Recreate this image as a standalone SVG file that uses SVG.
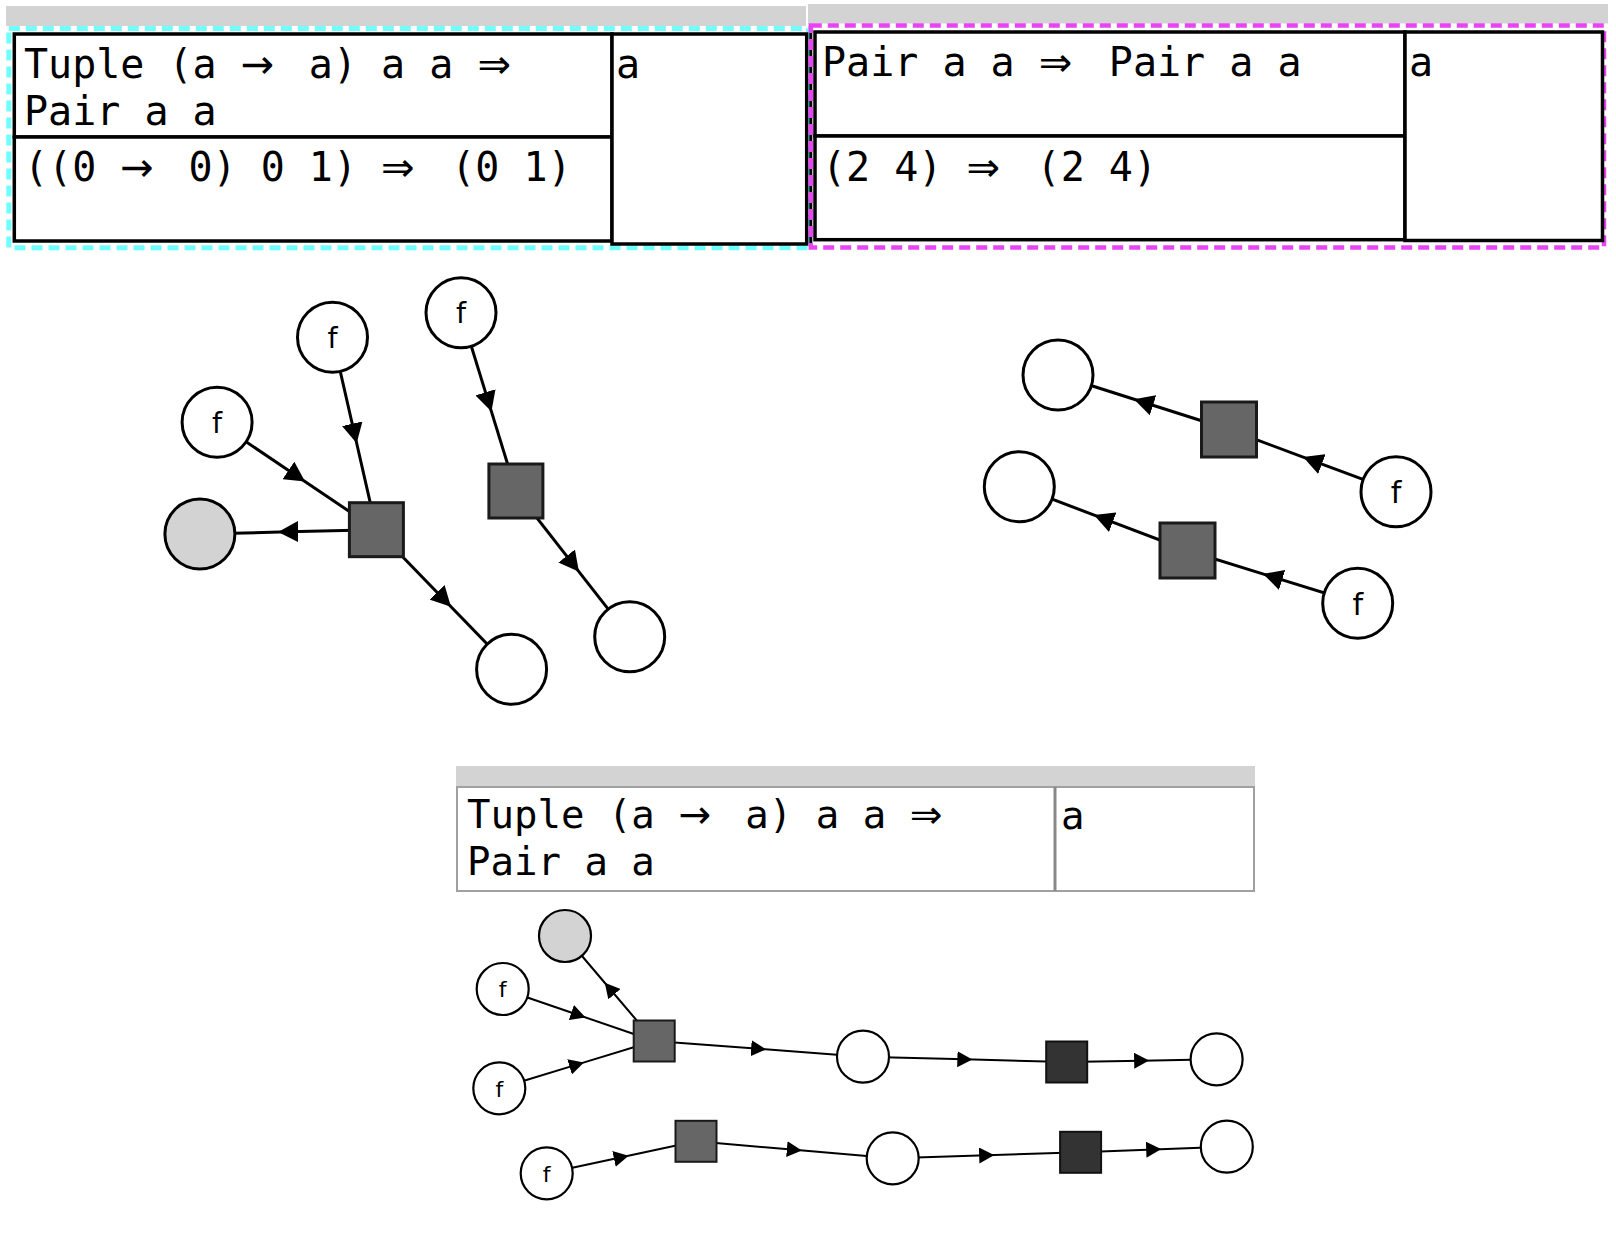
<svg xmlns="http://www.w3.org/2000/svg" width="1616" height="1250" viewBox="0 0 1616 1250">
<style>
.bar{fill:#d3d3d3}
.cell{fill:#fff;stroke:#000;stroke-width:3.5}
.cellg{fill:#fff;stroke:#a0a0a0;stroke-width:2}
.mono{font-family:"DejaVu Sans Mono","Liberation Mono",monospace;font-size:40px;fill:#000}
.monos{font-size:39px}
.arr{font-family:"DejaVu Sans","Liberation Sans",sans-serif}
.lbl{font-family:"DejaVu Sans","Liberation Sans",sans-serif;text-anchor:middle;fill:#000}
.c{fill:#fff;stroke:#000;stroke-width:3}
.cs{fill:#fff;stroke:#000;stroke-width:2.2}
.g{fill:#d3d3d3}
.sq{fill:#666;stroke:#1a1a1a;stroke-width:3}
.sqs{fill:#666;stroke:#1a1a1a;stroke-width:2}
.dsq{fill:#333;stroke:#111;stroke-width:2}
.e{fill:none;stroke:#000;stroke-width:3;marker-mid:url(#ah)}
.es{fill:none;stroke:#000;stroke-width:2;marker-mid:url(#ahs)}
</style>
<defs>
<marker id="ah" viewBox="-10 -10.5 20 21" markerWidth="20" markerHeight="21" markerUnits="userSpaceOnUse" orient="auto" refX="0" refY="0"><path d="M-10,-10.5 L10,0 L-10,10.5 Z" fill="#000"/></marker>
<marker id="ahs" viewBox="-7.5 -8 15 16" markerWidth="15" markerHeight="16" markerUnits="userSpaceOnUse" orient="auto" refX="0" refY="0"><path d="M-7.5,-8 L7.5,0 L-7.5,8 Z" fill="#000"/></marker>
</defs>
<rect width="1616" height="1250" fill="#fff"/>

<g id="panel-left">
<rect class="bar" x="6" y="6" width="800" height="20"/>
<rect x="8.8" y="28.5" width="799.7" height="219.3" fill="none" stroke="#70ffff" stroke-width="5" stroke-dasharray="11 6"/>
<rect class="cell" x="14.3" y="34" width="597.7" height="103"/>
<rect class="cell" x="14.3" y="137" width="597.7" height="104"/>
<rect class="cell" x="612" y="34" width="194.7" height="210"/>
<text class="mono" x="24" y="78" xml:space="preserve">Tuple (a <tspan class="arr">→</tspan><tspan dx="10.5"> a) a a </tspan><tspan class="arr">⇒</tspan></text>
<text class="mono" x="24" y="125">Pair a a</text>
<text class="mono" x="24" y="181" xml:space="preserve">((0 <tspan class="arr">→</tspan><tspan dx="10.5"> 0) 0 1) </tspan><tspan class="arr">⇒</tspan><tspan dx="12.5"> (0 1)</tspan></text>
<text class="mono" x="616" y="78">a</text>
</g>

<g id="panel-right">
<rect class="bar" x="808" y="4" width="800" height="19.5"/>
<line x1="810.8" y1="30" x2="810.8" y2="246" stroke="#000" stroke-width="3"/>
<rect x="810.8" y="25.5" width="793.2" height="222" fill="none" stroke="#e844f4" stroke-width="4.5" stroke-dasharray="11 6"/>
<rect class="cell" x="815" y="32" width="590" height="104"/>
<rect class="cell" x="815" y="136" width="590" height="103.7"/>
<rect class="cell" x="1405" y="32" width="197.5" height="208.5"/>
<text class="mono" x="822" y="76" xml:space="preserve">Pair a a <tspan class="arr">⇒</tspan><tspan dx="12.5"> Pair a a</tspan></text>
<text class="mono" x="822" y="181" xml:space="preserve">(2 4) <tspan class="arr">⇒</tspan><tspan dx="12.5"> (2 4)</tspan></text>
<text class="mono" x="1409" y="76">a</text>
</g>

<g id="panel-bottom">
<rect class="bar" x="456" y="766" width="799" height="20"/>
<rect class="cellg" x="457" y="787" width="598" height="104"/>
<rect class="cellg" x="1055" y="787" width="199" height="104"/>
<line x1="1055" y1="787" x2="1055" y2="891" stroke="#888" stroke-width="3"/>
<text class="mono monos" x="467" y="828" xml:space="preserve">Tuple (a <tspan class="arr">→</tspan><tspan dx="10.8"> a) a a </tspan><tspan class="arr">⇒</tspan></text>
<text class="mono monos" x="467" y="875">Pair a a</text>
<text class="mono monos" x="1061" y="829">a</text>
</g>

<g id="connectors">
<polyline class="e" points="332.5,337.3 354.45,433.5 376.4,529.7"/>
<polyline class="e" points="217.1,422.3 296.75,476 376.4,529.7"/>
<polyline class="e" points="376.4,529.7 288.15,531.85 199.9,534"/>
<polyline class="e" points="376.4,529.7 444,599.5 511.6,669.3"/>
<polyline class="e" points="461,312.7 488.45,401.85 515.9,491"/>
<polyline class="e" points="515.9,491 572.8,563.85 629.7,636.7"/>
<polyline class="e" points="1396,491.7 1312.5,460.6 1229,429.5"/>
<polyline class="e" points="1229,429.5 1143.5,402.25 1058,375"/>
<polyline class="e" points="1357.7,603.3 1272.6,576.9 1187.5,550.5"/>
<polyline class="e" points="1187.5,550.5 1103.4,518.6 1019.3,486.7"/>
<polyline class="es" points="654.2,1041 609.6,988.5 565,936"/>
<polyline class="es" points="502.7,989 578.45,1015 654.2,1041"/>
<polyline class="es" points="499.3,1088.3 576.75,1064.65 654.2,1041"/>
<polyline class="es" points="654.2,1041 758.6,1048.85 863,1056.7"/>
<polyline class="es" points="863,1056.7 964.85,1059.35 1066.7,1062"/>
<polyline class="es" points="1066.7,1062 1141.65,1060.65 1216.6,1059.3"/>
<polyline class="es" points="546.7,1173.3 621.35,1157.3 696,1141.3"/>
<polyline class="es" points="696,1141.3 794.35,1149.8 892.7,1158.3"/>
<polyline class="es" points="892.7,1158.3 986.65,1155.3 1080.6,1152.3"/>
<polyline class="es" points="1080.6,1152.3 1153.7,1149.5 1226.8,1146.7"/>
</g>

<g id="n-tl-fA"><circle class="c" cx="332.5" cy="337.3" r="35"/><text class="lbl" x="332.5" y="348" font-size="28.5">f</text></g>
<g id="n-tl-fB"><circle class="c" cx="217.1" cy="422.3" r="35"/><text class="lbl" x="217.1" y="433" font-size="28.5">f</text></g>
<g id="n-tl-fC"><circle class="c" cx="461" cy="312.7" r="35"/><text class="lbl" x="461" y="323.4" font-size="28.5">f</text></g>
<g id="n-tl-out"><circle class="c g" cx="199.9" cy="534" r="35"/></g>
<g id="n-tl-sq1"><rect class="sq" x="349.4" y="502.7" width="54" height="54"/></g>
<g id="n-tl-sq2"><rect class="sq" x="488.9" y="464" width="54" height="54"/></g>
<g id="n-tl-w1"><circle class="c" cx="511.6" cy="669.3" r="35"/></g>
<g id="n-tl-w2"><circle class="c" cx="629.7" cy="636.7" r="35"/></g>

<g id="n-tr-w1"><circle class="c" cx="1058" cy="375" r="35"/></g>
<g id="n-tr-w2"><circle class="c" cx="1019.3" cy="486.7" r="35"/></g>
<g id="n-tr-sqA"><rect class="sq" x="1201.5" y="402" width="55" height="55"/></g>
<g id="n-tr-sqB"><rect class="sq" x="1160" y="523" width="55" height="55"/></g>
<g id="n-tr-fA"><circle class="c" cx="1396" cy="491.7" r="35"/><text class="lbl" x="1396" y="503" font-size="30">f</text></g>
<g id="n-tr-fB"><circle class="c" cx="1357.7" cy="603.3" r="35"/><text class="lbl" x="1357.7" y="614.6" font-size="30">f</text></g>

<g id="n-b-out"><circle class="cs g" cx="565" cy="936" r="26"/></g>
<g id="n-b-f1"><circle class="cs" cx="502.7" cy="989" r="26"/><text class="lbl" x="502.7" y="997.3" font-size="22">f</text></g>
<g id="n-b-f2"><circle class="cs" cx="499.3" cy="1088.3" r="26"/><text class="lbl" x="499.3" y="1096.6" font-size="22">f</text></g>
<g id="n-b-f3"><circle class="cs" cx="546.7" cy="1173.3" r="26"/><text class="lbl" x="546.7" y="1181.6" font-size="22">f</text></g>
<g id="n-b-sq1"><rect class="sqs" x="633.7" y="1020.5" width="41" height="41"/></g>
<g id="n-b-sq2"><rect class="sqs" x="675.5" y="1120.8" width="41" height="41"/></g>
<g id="n-b-w1"><circle class="cs" cx="863" cy="1056.7" r="26"/></g>
<g id="n-b-d1"><rect class="dsq" x="1046.2" y="1041.5" width="41" height="41"/></g>
<g id="n-b-w2"><circle class="cs" cx="1216.6" cy="1059.3" r="26"/></g>
<g id="n-b-w3"><circle class="cs" cx="892.7" cy="1158.3" r="26"/></g>
<g id="n-b-d2"><rect class="dsq" x="1060.1" y="1131.8" width="41" height="41"/></g>
<g id="n-b-w4"><circle class="cs" cx="1226.8" cy="1146.7" r="26"/></g>
</svg>
